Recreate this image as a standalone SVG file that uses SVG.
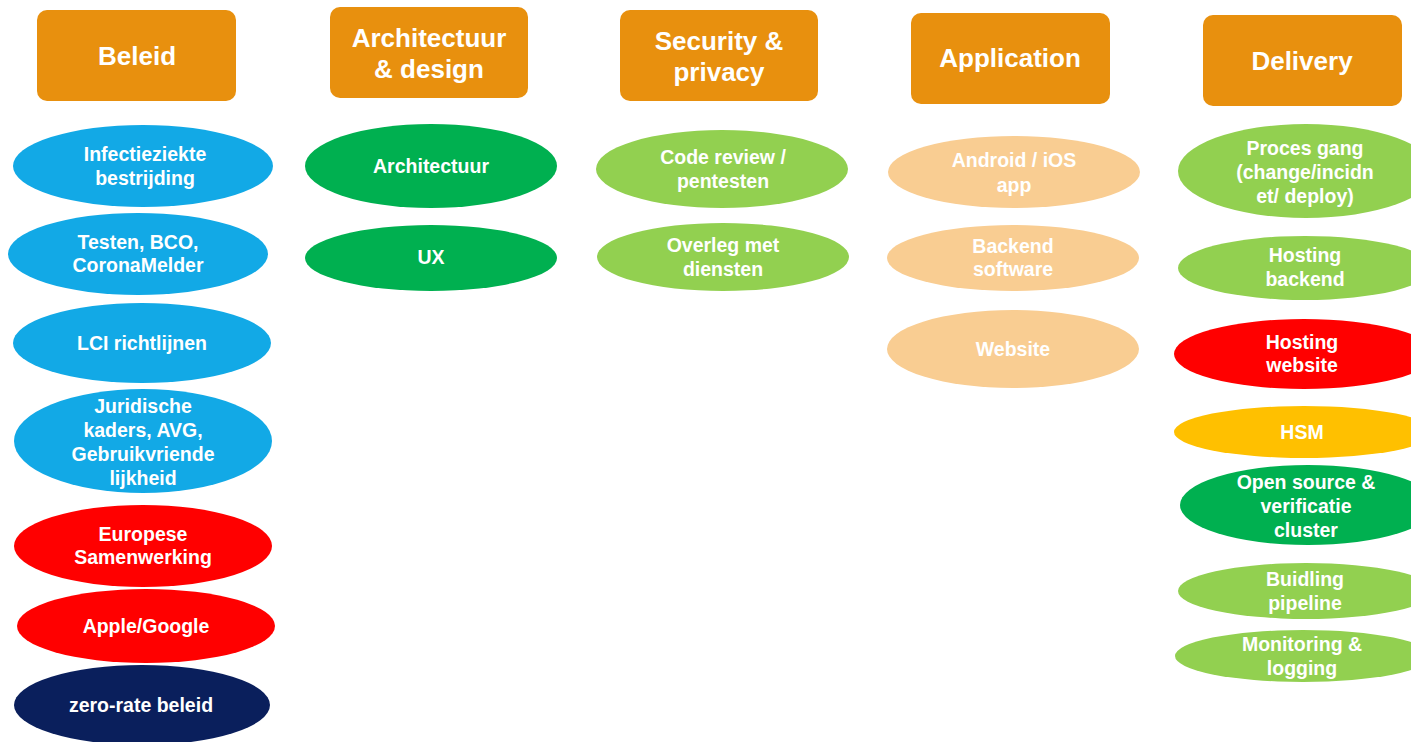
<svg xmlns="http://www.w3.org/2000/svg" width="1411" height="742" viewBox="0 0 1411 742">
<style>
.hdr{fill:#E8900E}
.ht{font-family:"Liberation Sans",Arial,sans-serif;font-weight:bold;font-size:26px;fill:#fff;text-anchor:middle}
.t{font-family:"Liberation Sans",Arial,sans-serif;font-weight:bold;font-size:19.5px;fill:#fff;text-anchor:middle}
.blue{fill:#12A9E6}.dg{fill:#00B050}.lg{fill:#92D050}.pe{fill:#F9CD92}.red{fill:#FF0000}.yel{fill:#FFC000}.navy{fill:#0A1F5C}
</style>
<rect width="1411" height="742" fill="#fff"/>
<g id="headers">
<g id="h-beleid"><rect class="hdr" x="37" y="10" width="199" height="91" rx="10"/><text class="ht" x="137" y="65">Beleid</text></g>
<g id="h-arch"><rect class="hdr" x="330" y="7" width="198" height="91" rx="10"/><text class="ht" x="429" y="47">Architectuur</text><text class="ht" x="429" y="78">&amp; design</text></g>
<g id="h-sec"><rect class="hdr" x="620" y="10" width="198" height="91" rx="10"/><text class="ht" x="719" y="50">Security &amp;</text><text class="ht" x="719" y="81">privacy</text></g>
<g id="h-app"><rect class="hdr" x="911" y="13" width="199" height="91" rx="10"/><text class="ht" x="1010" y="67">Application</text></g>
<g id="h-del"><rect class="hdr" x="1203" y="15" width="199" height="91" rx="10"/><text class="ht" x="1302" y="70">Delivery</text></g>
</g>
<g id="connectors"></g>
<g id="beleid">
<g id="n1"><ellipse class="blue" cx="143" cy="166" rx="130" ry="41"/><text class="t" x="145" y="161">Infectieziekte</text><text class="t" x="145" y="185">bestrijding</text></g>
<g id="n2"><ellipse class="blue" cx="138" cy="254" rx="130" ry="41"/><text class="t" x="138" y="249">Testen, BCO,</text><text class="t" x="138" y="272">CoronaMelder</text></g>
<g id="n3"><ellipse class="blue" cx="142" cy="343" rx="129" ry="40"/><text class="t" x="142" y="350">LCI richtlijnen</text></g>
<g id="n4"><ellipse class="blue" cx="143" cy="441" rx="129" ry="52"/><text class="t" x="143" y="413">Juridische</text><text class="t" x="143" y="437">kaders, AVG,</text><text class="t" x="143" y="461">Gebruikvriende</text><text class="t" x="143" y="485">lijkheid</text></g>
<g id="n5"><ellipse class="red" cx="143" cy="546" rx="129" ry="41"/><text class="t" x="143" y="541">Europese</text><text class="t" x="143" y="564">Samenwerking</text></g>
<g id="n6"><ellipse class="red" cx="146" cy="626" rx="129" ry="37"/><text class="t" x="146" y="633">Apple/Google</text></g>
<g id="n7"><ellipse class="navy" cx="142" cy="705" rx="128" ry="40"/><text class="t" x="141" y="712">zero-rate beleid</text></g>
</g>
<g id="arch">
<g id="n8"><ellipse class="dg" cx="431" cy="166" rx="126" ry="42"/><text class="t" x="431" y="173">Architectuur</text></g>
<g id="n9"><ellipse class="dg" cx="431" cy="258" rx="126" ry="33"/><text class="t" x="431" y="264">UX</text></g>
</g>
<g id="sec">
<g id="n10"><ellipse class="lg" cx="722" cy="169" rx="126" ry="39"/><text class="t" x="723" y="164">Code review /</text><text class="t" x="723" y="188">pentesten</text></g>
<g id="n11"><ellipse class="lg" cx="723" cy="257" rx="126" ry="34"/><text class="t" x="723" y="252">Overleg met</text><text class="t" x="723" y="276">diensten</text></g>
</g>
<g id="app">
<g id="n12"><ellipse class="pe" cx="1014" cy="172" rx="126" ry="36"/><text class="t" x="1014" y="167">Android / iOS</text><text class="t" x="1014" y="192">app</text></g>
<g id="n13"><ellipse class="pe" cx="1013" cy="258" rx="126" ry="33"/><text class="t" x="1013" y="253">Backend</text><text class="t" x="1013" y="276">software</text></g>
<g id="n14"><ellipse class="pe" cx="1013" cy="349" rx="126" ry="39"/><text class="t" x="1013" y="356">Website</text></g>
</g>
<g id="del">
<g id="n15"><ellipse class="lg" cx="1306" cy="171" rx="128" ry="47"/><text class="t" x="1305" y="155">Proces gang</text><text class="t" x="1305" y="179">(change/incidn</text><text class="t" x="1305" y="203">et/ deploy)</text></g>
<g id="n16"><ellipse class="lg" cx="1305" cy="268" rx="127" ry="32"/><text class="t" x="1305" y="262">Hosting</text><text class="t" x="1305" y="286">backend</text></g>
<g id="n17"><ellipse class="red" cx="1304" cy="354" rx="130" ry="35"/><text class="t" x="1302" y="349">Hosting</text><text class="t" x="1302" y="372">website</text></g>
<g id="n18"><ellipse class="yel" cx="1304" cy="432" rx="130" ry="26"/><text class="t" x="1302" y="439">HSM</text></g>
<g id="n19"><ellipse class="dg" cx="1308" cy="505" rx="128" ry="40"/><text class="t" x="1306" y="489">Open source &amp;</text><text class="t" x="1306" y="513">verificatie</text><text class="t" x="1306" y="537">cluster</text></g>
<g id="n20"><ellipse class="lg" cx="1306" cy="591" rx="128" ry="28"/><text class="t" x="1305" y="586">Buidling</text><text class="t" x="1305" y="610">pipeline</text></g>
<g id="n21"><ellipse class="lg" cx="1303" cy="656" rx="128" ry="26"/><text class="t" x="1302" y="651">Monitoring &amp;</text><text class="t" x="1302" y="675">logging</text></g>
</g>
</svg>
